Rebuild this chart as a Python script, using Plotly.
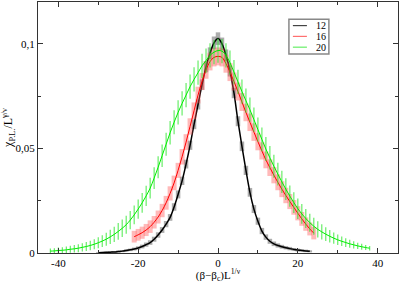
import plotly.graph_objects as go

# ---- data ----
x12 = list(range(-30, 24))
y12 = [0.0001, 0.0002, 0.0003, 0.0004, 0.0005, 0.0007, 0.0009, 0.0012, 0.0015, 0.0019,
       0.0024, 0.0031, 0.0040, 0.0050, 0.0066, 0.0086, 0.0110, 0.0138, 0.0170, 0.0220,
       0.0280, 0.0345, 0.0425, 0.0515, 0.0615, 0.0710, 0.0805, 0.0890, 0.0955, 0.1005,
       0.1025,
       0.1000, 0.0945, 0.0870, 0.0765, 0.0630, 0.0510, 0.0395, 0.0290, 0.0210, 0.0152,
       0.0105, 0.0076, 0.0056, 0.0044, 0.0036, 0.0030, 0.0025, 0.0021, 0.0017, 0.0014,
       0.0012, 0.0010, 0.0008]
e12 = [0.0003, 0.0003, 0.0003, 0.0004, 0.0004, 0.0005, 0.0005, 0.0006, 0.0006, 0.0007,
       0.0008, 0.0009, 0.0010, 0.0011, 0.0012, 0.0013, 0.0014, 0.0015, 0.0016, 0.0018,
       0.0019, 0.0020, 0.0021, 0.0022, 0.0023, 0.0024, 0.0025, 0.0026, 0.0028, 0.0030,
       0.0030,
       0.0030, 0.0028, 0.0026, 0.0025, 0.0024, 0.0023, 0.0022, 0.0021, 0.0019, 0.0017,
       0.0015, 0.0013, 0.0012, 0.0011, 0.0010, 0.0009, 0.0008, 0.0008, 0.0007, 0.0007,
       0.0006, 0.0006, 0.0005]

x16 = list(range(-21, 25))
y16 = [0.0078, 0.0087, 0.0097, 0.0110, 0.0126, 0.0147, 0.0172, 0.0203, 0.0240, 0.0285,
       0.0335, 0.0395, 0.0460, 0.0530, 0.0605, 0.0680, 0.0755, 0.0820, 0.0875, 0.0915,
       0.0935, 0.0940,
       0.0935, 0.0905, 0.0865, 0.0820, 0.0772, 0.0722, 0.0672, 0.0625, 0.0578, 0.0532,
       0.0488, 0.0445, 0.0408, 0.0372, 0.0338, 0.0305, 0.0275, 0.0246, 0.0218, 0.0190,
       0.0163, 0.0138, 0.0115, 0.0095]
e16 = [0.0028, 0.0028, 0.0029, 0.0029, 0.0030, 0.0030, 0.0031, 0.0032, 0.0033, 0.0034,
       0.0035, 0.0036, 0.0037, 0.0038, 0.0039, 0.0040, 0.0040, 0.0041, 0.0042, 0.0042,
       0.0043, 0.0043,
       0.0043, 0.0043, 0.0043, 0.0043, 0.0043, 0.0043, 0.0042, 0.0042, 0.0042, 0.0041,
       0.0041, 0.0040, 0.0040, 0.0039, 0.0038, 0.0038, 0.0037, 0.0036, 0.0035, 0.0034,
       0.0033, 0.0032, 0.0031, 0.0030]

x20 = list(range(-42, 39))
y20 = [0.0009, 0.0010, 0.0012, 0.0013, 0.0015, 0.0018, 0.0020, 0.0023, 0.0027, 0.0031,
       0.0036, 0.0042, 0.0049, 0.0057, 0.0066, 0.0077, 0.0089, 0.0103, 0.0118, 0.0135,
       0.0157, 0.0182, 0.0210, 0.0240, 0.0273, 0.0310, 0.0358, 0.0410, 0.0465, 0.0520,
       0.0575, 0.0625, 0.0672, 0.0715, 0.0755, 0.0795, 0.0830, 0.0862, 0.0895, 0.0920,
       0.0945, 0.0960, 0.0968,
       0.0965, 0.0945, 0.0910, 0.0865, 0.0818, 0.0772, 0.0728, 0.0685, 0.0638, 0.0590,
       0.0543, 0.0497, 0.0455, 0.0415, 0.0377, 0.0340, 0.0305, 0.0272, 0.0241, 0.0212,
       0.0187, 0.0165, 0.0145, 0.0128, 0.0113, 0.0101, 0.0090, 0.0080, 0.0071, 0.0063,
       0.0056, 0.0050, 0.0044, 0.0039, 0.0034, 0.0030, 0.0026, 0.0023]
e20 = [0.0012, 0.0013, 0.0014, 0.0015, 0.0016, 0.0017, 0.0018, 0.0019, 0.0020, 0.0022,
       0.0023, 0.0024, 0.0026, 0.0028, 0.0031, 0.0034, 0.0037, 0.0040, 0.0042, 0.0043,
       0.0044, 0.0045, 0.0046, 0.0047, 0.0048, 0.0050, 0.0052, 0.0053, 0.0054, 0.0055,
       0.0056, 0.0057, 0.0058, 0.0058, 0.0058, 0.0058, 0.0058, 0.0058, 0.0058, 0.0058,
       0.0058, 0.0058, 0.0058,
       0.0058, 0.0058, 0.0058, 0.0058, 0.0058, 0.0058, 0.0058, 0.0058, 0.0058, 0.0058,
       0.0057, 0.0057, 0.0056, 0.0055, 0.0054, 0.0053, 0.0052, 0.0051, 0.0050, 0.0049,
       0.0047, 0.0045, 0.0043, 0.0041, 0.0039, 0.0036, 0.0033, 0.0030, 0.0027, 0.0025,
       0.0023, 0.0021, 0.0019, 0.0017, 0.0015, 0.0014, 0.0012, 0.0011]

series_names = ["12", "16", "20"]
series_colors = ["black", "red", "#00ee00"]
legend_sample_colors = ["#444444", "#ff7070", "#66ee66"]

x_tickvals = [-40, -20, 0, 20, 40]
x_ticktext = ["-40", "-20", "0", "20", "40"]
y_tickvals = [0, 0.05, 0.1]
y_ticktext = ["0", "0,05", "0,1"]

FONT = "Liberation Serif"

fig = go.Figure()
fig.add_trace(go.Scatter(
    x=x12, y=y12, name=series_names[0], mode="lines",
    line=dict(color=series_colors[0], width=1.5, shape="spline"),
    error_y=dict(type="data", array=e12, color="rgba(70,70,70,0.45)", thickness=4.5, width=0),
))
fig.add_trace(go.Scatter(
    x=x16, y=y16, name=series_names[1], mode="lines",
    line=dict(color=series_colors[1], width=1, shape="spline"),
    error_y=dict(type="data", array=e16, color="rgba(255,80,80,0.4)", thickness=5, width=0),
))
fig.add_trace(go.Scatter(
    x=x20, y=y20, name=series_names[2], mode="lines",
    line=dict(color=series_colors[2], width=1, shape="spline"),
    error_y=dict(type="data", array=e20, color="rgba(40,230,40,0.7)", thickness=1.2, width=0),
))

axis_common = dict(
    showgrid=False, zeroline=False, showline=True, linecolor="#333", linewidth=1.3,
    mirror="ticks", ticks="inside", ticklen=5, tickcolor="#333", tickwidth=1,
    tickfont=dict(family=FONT, size=11, color="black"), automargin=False,
)
fig.update_xaxes(
    range=[-45.1, 45.1], tickvals=x_tickvals, ticktext=x_ticktext,
    minor=dict(tickvals=[-30, -10, 10, 30], ticks="inside", ticklen=3, tickcolor="#333"),
    title=dict(text="(β−β<sub>c</sub>)L<sup>1/ν</sup>", font=dict(family=FONT, size=11, color="black"),
               standoff=0),
    **axis_common,
)
fig.update_yaxes(
    range=[0, 0.12], tickvals=y_tickvals, ticktext=y_ticktext,
    minor=dict(tickvals=[0.025, 0.075], ticks="inside", ticklen=3, tickcolor="#333"),
    title=dict(text="χ<sub>P.L.</sub>/L<sup>γ/ν</sup>", font=dict(family=FONT, size=12, color="black"),
               standoff=0),
    **axis_common,
)

# hand-drawn compact legend box (paper coordinates)
shapes = [dict(type="rect", xref="paper", yref="paper", x0=0.697, x1=0.808, y0=0.793, y1=0.931,
               line=dict(color="#888", width=1.5), fillcolor="white", layer="above")]
annotations = []
for i, (nm, col) in enumerate(zip(series_names, legend_sample_colors)):
    yy = 0.906 - i * 0.043
    shapes.append(dict(type="line", xref="paper", yref="paper", x0=0.708, x1=0.747, y0=yy, y1=yy,
                       line=dict(color=col, width=1.2), layer="above"))
    annotations.append(dict(text=nm, xref="paper", yref="paper", x=0.766, y=yy, xanchor="left",
                            yanchor="middle", showarrow=False,
                            font=dict(family=FONT, size=10, color="black")))

fig.update_layout(
    width=399, height=283,
    margin=dict(l=38, r=1, t=2, b=30),
    paper_bgcolor="white", plot_bgcolor="white",
    showlegend=False,
    shapes=shapes, annotations=annotations,
)
fig.write_html("out.html", config={"displayModeBar": False},
               post_script="document.body.style.margin='0';")
